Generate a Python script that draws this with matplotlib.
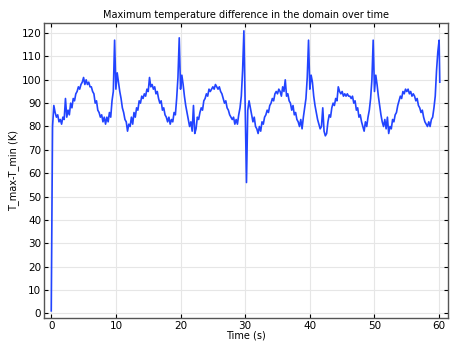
import matplotlib
matplotlib.use("Agg")
import matplotlib.pyplot as plt
import numpy as np

# values, every 0.2 s (last point at 60.1 s)
dT_0 = [1, 80, 89, 86, 84, 85, 82, 83, 81, 84,
        83, 92, 84, 87, 85, 90, 88, 92, 91, 94,
        95, 97, 96, 98, 99, 101, 98, 100, 98, 99,
        97, 97, 95, 94, 90, 91, 87, 86, 84, 85,
        82, 84, 81, 84, 82, 86, 84, 91, 95, 117]
dT_10 = [96, 103, 99, 95, 92, 88, 86, 83, 82, 78,
         81, 80, 84, 81, 86, 84, 88, 87, 91, 90,
         93, 92, 94, 93, 96, 95, 101, 97, 98, 96,
         97, 94, 95, 92, 90, 91, 87, 88, 85, 84,
         82, 84, 81, 83, 82, 86, 85, 92, 101, 118]
dT_20 = [96, 102, 98, 93, 89, 86, 83, 80, 82, 78,
         89, 77, 79, 84, 83, 86, 88, 87, 91, 92,
         94, 93, 96, 95, 96, 97, 96, 98, 97, 96,
         97, 95, 94, 92, 90, 91, 88, 87, 85, 84,
         83, 84, 81, 83, 81, 85, 88, 93, 104, 121]
dT_30 = [88, 56, 87, 91, 88, 85, 82, 84, 80, 79,
         77, 80, 78, 82, 81, 84, 85, 87, 86, 89,
         90, 92, 91, 94, 95, 94, 96, 95, 93, 97,
         95, 100, 93, 94, 91, 90, 87, 89, 85, 86,
         83, 82, 80, 83, 79, 84, 88, 92, 101, 117]
dT_40 = [96, 102, 99, 93, 89, 86, 83, 81, 79, 80,
         88, 78, 76, 77, 82, 85, 84, 88, 90, 89,
         92, 91, 97, 95, 94, 95, 93, 94, 93, 94,
         93, 93, 92, 93, 90, 91, 87, 88, 84, 85,
         82, 80, 78, 82, 80, 84, 87, 92, 100, 117]
dT_50 = [95, 102, 98, 93, 89, 85, 82, 80, 83, 79,
         84, 77, 80, 79, 83, 82, 85, 86, 89, 91,
         93, 92, 95, 94, 96, 95, 96, 94, 95, 93,
         94, 93, 91, 92, 89, 88, 86, 87, 84, 82,
         81, 80, 82, 80, 83, 84, 88, 93, 104, 112,
         117, 99]

dT = np.array(dT_0 + dT_10 + dT_20 + dT_30 + dT_40 + dT_50, dtype=float)
time = np.append(np.round(np.arange(301) * 0.2, 1), 60.1)

fig = plt.figure(figsize=(4.55, 3.45), dpi=100)
ax = fig.add_axes([0.097, 0.078, 0.888, 0.855])

ax.plot(time, dT, color='#2244ff', lw=1.2)

ax.set_xlim(-1.1, 61.4)
ax.set_ylim(-2.1, 124.3)
ax.set_xticks(range(0, 61, 10))
ax.set_yticks(range(0, 121, 10))
ax.grid(True, color='#e6e6e6', lw=0.8)
ax.set_axisbelow(True)
ax.tick_params(direction='in', top=True, right=True, labelsize=7.5, length=3, width=0.8, pad=2)
for s in ax.spines.values():
    s.set_color('#555555')
    s.set_linewidth(1.0)

ax.set_title('Maximum temperature difference in the domain over time', fontsize=7, pad=4)
ax.set_xlabel('Time (s)', fontsize=7, labelpad=0)
ax.set_ylabel('T_max-T_min (K)', fontsize=7, labelpad=2)

fig.savefig('out.png', dpi=100)
